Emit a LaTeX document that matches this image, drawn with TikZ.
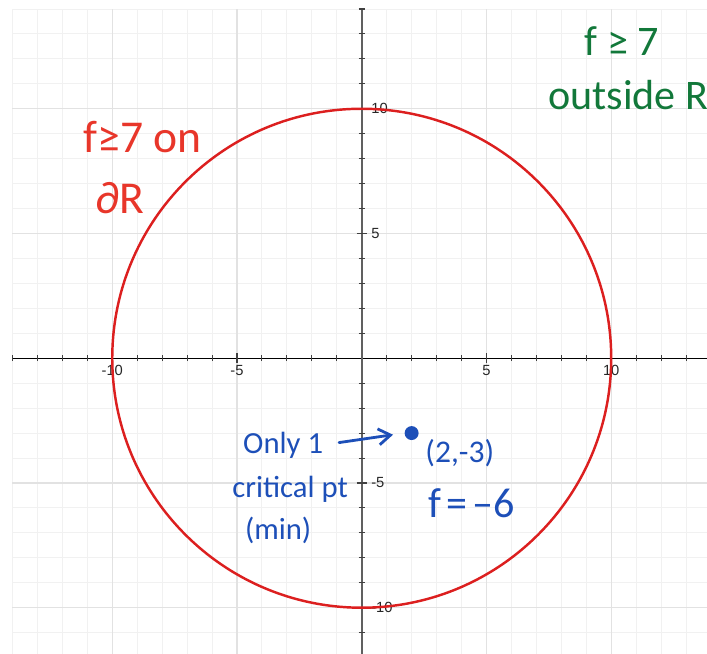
\documentclass[tikz,border=0pt]{standalone}
\usepackage{fontspec}
\setmainfont{Liberation Sans}
\newfontfamily\handfont{Carlito}
\usetikzlibrary{arrows.meta,positioning,calc}
\definecolor{gridMinorC}{HTML}{F1F1F1}
\definecolor{gridMajorC}{HTML}{E2E2E2}
\definecolor{axisYC}    {HTML}{606060}
\definecolor{circleC}   {HTML}{DC1F1F}
\definecolor{redInk}    {HTML}{E8362A}
\definecolor{greenInk}  {HTML}{12783A}
\definecolor{blueInk}   {HTML}{1D4FB8}
\tikzset{
  >={Straight Barb[length=2.4mm,width=3.2mm]},
  gridMinor/.style={draw=gridMinorC,line width=0.55pt},
  gridMajor/.style={draw=gridMajorC,line width=0.75pt},
  axisX/.style={draw=black,line width=0.8pt},
  axisY/.style={draw=axisYC,line width=1.4pt},
  tickMark/.style={draw=black!75,line width=0.6pt},
  tickLabel/.style={font=\fontsize{8.4}{9}\selectfont,text=black!85,inner sep=1pt},
  regionEdge/.style={draw=circleC,line width=1.4pt},
  redNote/.style={text=redInk,font=\handfont\fontsize{26}{30}\selectfont,
    inner sep=0pt,anchor=base west},
  greenNote/.style={text=greenInk,font=\handfont\fontsize{24}{28}\selectfont,
    inner sep=0pt,anchor=base},
  blueNote/.style={text=blueInk,font=\handfont\fontsize{17.5}{21}\selectfont,
    inner sep=0pt,anchor=base},
  dotPt/.style={circle,fill=blueInk,inner sep=0pt,minimum size=2.8mm},
  inkArrow/.style={->,draw=blueInk,line width=1.6pt,line cap=round},
}
\begin{document}
\begin{tikzpicture}[x=5mm,y=5mm]
\useasboundingbox (-14.50,-11.85) rectangle (13.84,14.36);
% grid and axes
\draw[gridMinor,step=1] (-14,-11.85) grid (13.84,14);
\draw[gridMajor,step=5] (-14,-11.85) grid (13.84,14);
\draw[axisX] (-14,0) -- (13.84,0);
\draw[axisY] (0,14) -- (0,-11.85);
\foreach \t in {-14,...,-1,1,2,...,13}
  \draw[tickMark] (\t,-0.12) -- (\t,0.12);
\foreach \t in {-11,...,-1,1,2,...,14}
  \draw[tickMark] (-0.12,\t) -- (0.12,\t);
\foreach \t in {-10,-5,5,10} {
  \draw[tickMark] (\t,-0.2) -- (\t,0.2);
  \draw[tickMark] (-0.2,\t) -- (0.2,\t);
  \node[tickLabel,anchor=north] (xl\t) at (\t,-0.2) {\t};
  \node[tickLabel,anchor=west] (yl\t) at (0.3,\t) {\t};
}
% region boundary
\draw[regionEdge] (0,0) circle[radius=10];
% notes
\node[redNote] (bndA) at (-11.17,8.23) {f≥7 on};
\node[redNote] (bndB) at (-10.69,5.82) {∂R};
\node[greenNote] (outA) at (10.43,12.14) {f ≥ 7};
\node[greenNote] (outB) at (10.68,9.99) {outside R};
\node[dotPt] (minpt) at (2,-3) {};
\node[blueNote] (only) at (-3.15,-3.80) {Only 1};
\node[blueNote] (crit) at (-2.87,-5.60) {critical pt};
\node[blueNote] (minlbl) at (-3.35,-7.27) {(min)};
\node[blueNote,anchor=base west,font=\handfont\fontsize{18}{21}\selectfont] (ptlbl) at (2.54,-4.16) {(2,-3)};
\node[blueNote,anchor=base west,font=\handfont\fontsize{24}{28}\selectfont] (fval) at (2.66,-6.37) {f\hspace{0.12em}=\hspace{0.12em}–6};
\draw[inkArrow,shorten <=9pt,shorten >=6.5pt] (only.east) -- (minpt.west);
\end{tikzpicture}
\end{document}
